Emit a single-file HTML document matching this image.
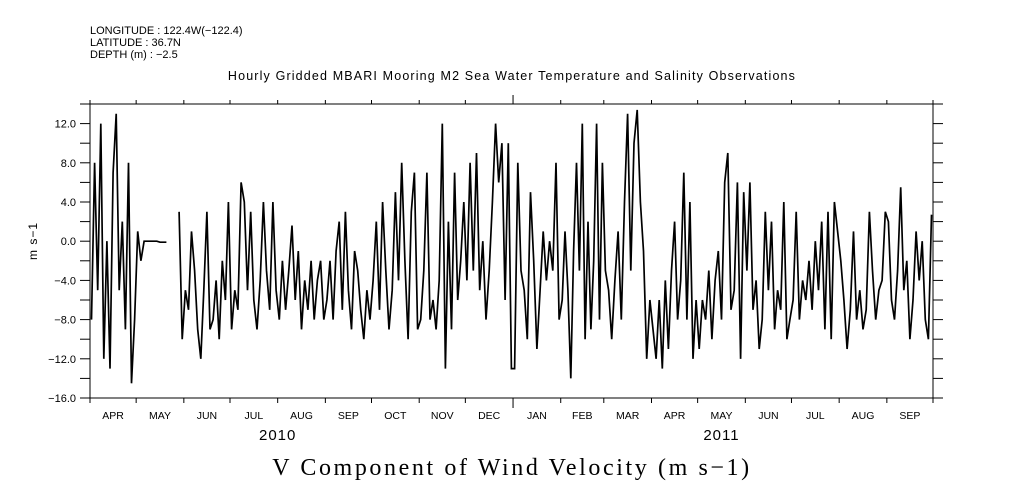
<!DOCTYPE html>
<html><head><meta charset="utf-8"><style>
body{margin:0;background:#fff;}
svg{display:block;}
text{font-family:"Liberation Sans",sans-serif;fill:#000;}
</style></head><body>
<svg id="chart" width="1009" height="504" viewBox="0 0 1009 504">
<g font-size="11">
<text x="90" y="34">LONGITUDE : 122.4W(−122.4)</text>
<text x="90" y="46">LATITUDE : 36.7N</text>
<text x="90" y="58">DEPTH (m) : −2.5</text>
</g>
<text x="512" y="80" font-size="12.5" letter-spacing="1.15" text-anchor="middle">Hourly Gridded MBARI Mooring M2 Sea Water Temperature and Salinity Observations</text>
<text transform="translate(37,241) rotate(-90)" font-size="12" letter-spacing="1" text-anchor="middle">m s−1</text>
<text x="512" y="475" font-size="24" letter-spacing="2.6" text-anchor="middle" style="font-family:'Liberation Serif',serif">V Component of Wind Velocity (m s−1)</text>
<g id="axes"></g>
<g id="marks"></g>
</svg>
<script>
const monthLabels=["APR","MAY","JUN","JUL","AUG","SEP","OCT","NOV","DEC","JAN","FEB","MAR","APR","MAY","JUN","JUL","AUG","SEP"];
const monthDays=[30,31,30,31,31,30,31,30,31,31,28,31,30,31,30,31,31,30];
const yTicks=[12,8,4,0,-4,-8,-12,-16];
const yearLabels=["2010","2011"];
const yearMonthIndex=[4,13.5];
const v_apr10=[-8,8,-5,12,-12,0,-13,7,13,-5,2,-9,8,-14.5,-8];
const v_may10=[1,-2,0,0,0,0,0,-0.1,-0.1,-0.1,null,null,null,3,-10];
const v_jun10=[-5,-7,1,-3,-9,-12,-5,3,-9,-8,-4,-10,-2,-6,4];
const v_jul10=[-9,-5,-7,6,4,-5,3,-6,-9,-4,4,-3,-7,4,-5];
const v_aug10=[-8,-2,-7,-3,1.6,-6,-1,-9,-4,-7,-2,-8,-4,-2,-8];
const v_sep10=[-6,-2,-8,-1,2,-7,3,-5,-9,-1,-3,-7,-10,-5,-8];
const v_oct10=[-4,2,-7,4,-3,-9,-5,5,-4,8,-2,-10,3,7,-9];
const v_nov10=[-8,-3,7,-8,-6,-9,-4,12,-13,2,-9,7,-6,-2,4];
const v_dec10=[-4,8,-3,9,-5,0,-8,-3,4,12,6,10,-6,10,-13];
const v_jan11=[-13,8,-3,-5,-10,5,-2,-11,-5,1,-4,0,-3,8,-8];
const v_feb11=[-6,1,-5,-14,-1,8,-3,12,-10,2,-9,-2,12,-8,8];
const v_mar11=[-3,-5,-10,-4,1,-8,4,13,-3,10,13.4,4,-1,-12,-6];
const v_apr11=[-9,-12,-6,-13,-4,-11,-3,2,-8,-4,7,-8,4,-12,-6];
const v_may11=[-11,-6,-8,-3,-10,-4,-1,-8,6,9,-7,-5,6,-12,5];
const v_jun11=[-3,6,-7,-4,-11,-8,3,-5,2,-9,-5,-7,4,-10,-8];
const v_jul11=[-6,3,-8,-4,-6,-2,-7,0,-5,2,-9,3,-10,4,1];
const v_aug11=[-2,-6,-11,-7,1,-8,-5,-9,-7,3,-3,-8,-5,-4,3];
const v_sep11=[2,-6,-8,-3,5.5,-5,-2,-10,-6,1,-4,0,-8,-10,2.7];
const series=[v_apr10,v_may10,v_jun10,v_jul10,v_aug10,v_sep10,v_oct10,v_nov10,v_dec10,v_jan11,v_feb11,v_mar11,v_apr11,v_may11,v_jun11,v_jul11,v_aug11,v_sep11];

const L=90,R=933,T=104,B=398,YMIN=-16,YMAX=14;
const totalDays=monthDays.reduce((a,b)=>a+b,0);
const xOf=d=>L+(R-L)*d/totalDays;
const yOf=v=>B-(B-T)*(v-YMIN)/(YMAX-YMIN);
const NS="http://www.w3.org/2000/svg";
const axes=document.getElementById('axes'),marks=document.getElementById('marks');
function mk(tag,attrs,parent){const e=document.createElementNS(NS,tag);for(const k in attrs)e.setAttribute(k,attrs[k]);parent.appendChild(e);return e;}

const frame=mk('rect',{x:L,y:T,width:R-L,height:B-T,fill:'none',stroke:'#000','stroke-width':1},axes);



for(let v=YMIN;v<=YMAX;v+=2){
  const y=yOf(v);
  const t1=mk('line',{x1:L-10,x2:L,y1:y,y2:y,stroke:'#000'},axes);
  
  
  const t2=mk('line',{x1:R,x2:R+10,y1:y,y2:y,stroke:'#000'},axes);
  
  
}
yTicks.forEach(v=>{
  const t=mk('text',{x:76,y:yOf(v)+4,'font-size':11,'text-anchor':'end'},axes);
  t.textContent=v.toFixed(1).replace('-','−');
  
  
});

let cum=0;const starts=[];
monthDays.forEach(d=>{starts.push(cum);cum+=d;});
starts.push(cum);
starts.forEach((s,i)=>{
  const x=xOf(s);const big=(i===9);
  const a=mk('line',{x1:x,x2:x,y1:T-(big?9:4),y2:T,stroke:'#000'},axes);
  
  
  const b=mk('line',{x1:x,x2:x,y1:B,y2:B+(big?10:5),stroke:'#000'},axes);
  
  
});
monthLabels.forEach((m,i)=>{
  const x=xOf(starts[i]+monthDays[i]/2);
  const t=mk('text',{x:x,y:419,'font-size':10.5,'text-anchor':'middle'},axes);
  t.textContent=m;
  
  
});
yearLabels.forEach((yl,i)=>{
  const mi=yearMonthIndex[i];const fi=Math.floor(mi);
  const x=xOf(starts[fi]+(mi-fi)*monthDays[fi]);
  const t=mk('text',{x:x,y:440,'font-size':15,'letter-spacing':1,'text-anchor':'middle'},axes);
  t.textContent=yl;
  
  
});

let d='';let pen=false;
series.forEach((arr,mi)=>{
  arr.forEach((v,k)=>{
    if(v===null){pen=false;return;}
    const x=xOf(starts[mi]+(k+0.5)*monthDays[mi]/arr.length);
    d+=(pen?'L':'M')+x.toFixed(1)+' '+yOf(v).toFixed(1)+' ';pen=true;
  });
});
const line=mk('path',{d:d,fill:'none',stroke:'#000','stroke-width':1.7,'stroke-linejoin':'miter'},marks);


</script>
</body></html>
